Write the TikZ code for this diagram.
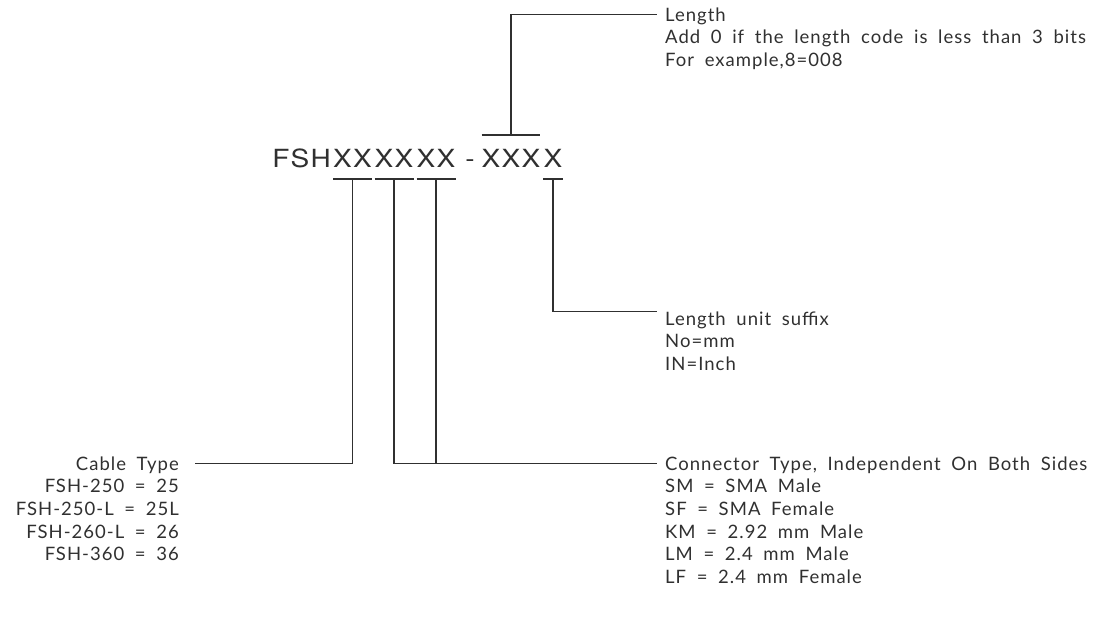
\documentclass[tikz,border=0pt]{standalone}
\usepackage{fontspec}
\setmainfont[LetterSpace=5.5,WordSpace=1.85]{Lato}
\newfontfamily\codefont[LetterSpace=5,FakeStretch=1.12]{TeX Gyre Heros}
\usetikzlibrary{positioning}
\definecolor{inkgray}{HTML}{303030}

\tikzset{
  code/.style={font=\codefont\fontsize{25}{30}\selectfont, inner sep=0pt, anchor=base, text=inkgray},
  lbl/.style={font=\fontsize{18.5}{22}\selectfont, inner xsep=8pt, inner ysep=0pt,
    text height=13pt, text depth=0pt, text=inkgray},
  lead/.style={draw=inkgray, line width=1.1pt},
}

\begin{document}
\begin{tikzpicture}[x=1pt,y=-1pt]
  \useasboundingbox (0,0) rectangle (1100,622);

  % Bestellcode
  \node[code] (fsh)   at (301.5,167) {FSH};
  \node[code] (cabx)  at (352.5,167) {XX};
  \node[code] (conx1) at (394,167)   {XX};
  \node[code] (conx2) at (436,167)   {XX};
  \node[code] (dash)  at (470,167)   {-};
  \node[code] (lenx)  at (511,167)   {XXX};
  \node[code] (unitx) at (553,167)   {X};

  % Klammern
  \foreach \n in {cabx,conx1,conx2,unitx}
    \draw[lead] ([yshift=-12pt]\n.base west) -- ([yshift=-12pt]\n.base east);
  \draw[lead] ([yshift=32pt]lenx.base west) -- ([yshift=32pt]lenx.base east);

  % Length
  \node[lbl, anchor=base west] (lenhead) at (657,21) {Length};
  \foreach \t [count=\i] in {Add 0 if the length code is less than 3 bits, {For example,8=008}}
    \node[lbl, anchor=base west] (lenline\i) at ([yshift=-\i*22.7pt]lenhead.base west) {\t};

  % Length unit suffix
  \node[lbl, anchor=base west] (unithead) at (657,325) {Length unit suffix};
  \foreach \t [count=\i] in {No=mm, IN=Inch}
    \node[lbl, anchor=base west] (unitline\i) at ([yshift=-\i*22.7pt]unithead.base west) {\t};

  % Connector Type
  \node[lbl, anchor=base west] (conhead) at (657,470) {Connector Type, Independent On Both Sides};
  \foreach \t [count=\i] in {SM = SMA Male, SF = SMA Female, KM = 2.92 mm Male, LM = 2.4 mm Male, LF = 2.4 mm Female}
    \node[lbl, anchor=base west] (conline\i) at ([yshift=-\i*22.7pt]conhead.base west) {\t};

  % Cable Type
  \node[lbl, anchor=base east] (cabhead) at (187,470) {Cable Type};
  \foreach \t [count=\i] in {FSH-250 = 25, FSH-250-L = 25L, FSH-260-L = 26, FSH-360 = 36}
    \node[lbl, anchor=base east] (cabline\i) at ([yshift=-\i*22.7pt]cabhead.base east) {\t};

  % Verbindungslinien
  \draw[lead] ([yshift=32pt]lenx.base) |- (lenhead.west);
  \draw[lead] ([yshift=-12pt]unitx.base) |- (unithead.north west);
  \draw[lead] ([yshift=-12pt]conx1.base) |- (conhead.west);
  \draw[lead] ([yshift=-12pt]conx2.base) -- (conx2.base |- conhead.west);
  \draw[lead] ([yshift=-12pt]cabx.base) |- ([xshift=8pt]cabhead.east);
\end{tikzpicture}
\end{document}
